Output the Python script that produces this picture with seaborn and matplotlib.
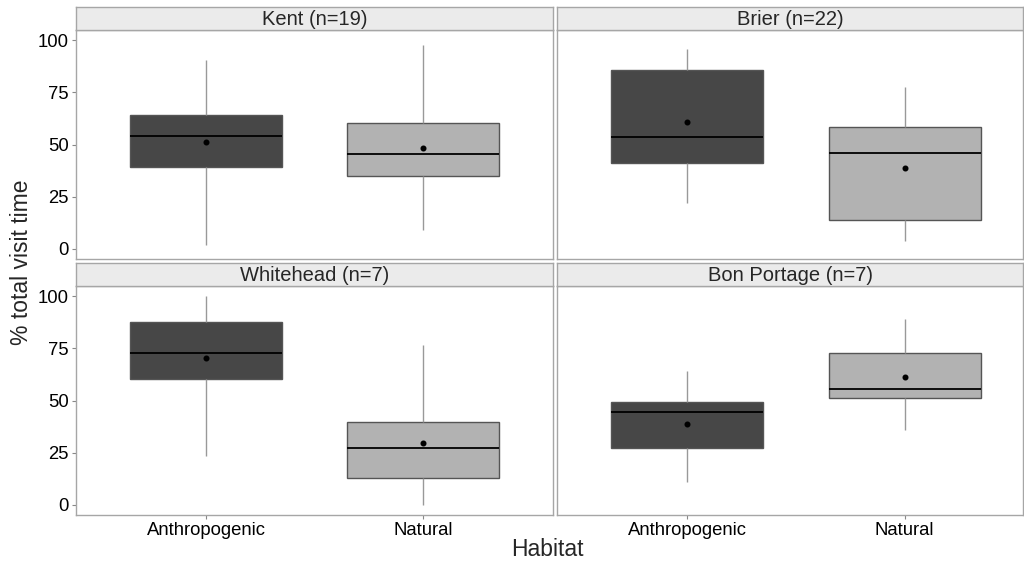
import numpy as np
import pandas as pd
import matplotlib.pyplot as plt
import seaborn as sns

# sites (facets) and habitats
sites = ["Kent (n=19)", "Brier (n=22)", "Whitehead (n=7)", "Bon Portage (n=7)"]
habitats = ["Anthropogenic", "Natural"]

# five-number summaries + means, one value per site
anthro_min = [1.9, 22.0, 23.5, 10.7]
anthro_q1 = [39.4, 41.2, 60.2, 27.0]
anthro_med = [54.2, 53.7, 72.8, 44.5]
anthro_q3 = [64.4, 85.9, 87.5, 49.1]
anthro_max = [90.4, 95.7, 100.0, 64.3]
anthro_mean = [51.1, 60.9, 70.2, 38.9]

natural_min = [9.0, 3.8, 0.0, 35.7]
natural_q1 = [35.1, 13.8, 12.6, 51.0]
natural_med = [45.3, 45.8, 27.2, 55.7]
natural_q3 = [60.1, 58.2, 39.5, 72.9]
natural_max = [97.6, 77.6, 76.5, 89.1]
natural_mean = [48.4, 38.8, 29.8, 61.3]

# long table: the five summary values per box reproduce its quartiles exactly
rows = []
for i, site in enumerate(sites):
    for hab, stats in [("Anthropogenic", (anthro_min, anthro_q1, anthro_med, anthro_q3, anthro_max)),
                       ("Natural", (natural_min, natural_q1, natural_med, natural_q3, natural_max))]:
        for s in stats:
            rows.append({"site": site, "habitat": hab, "value": s[i]})
df = pd.DataFrame(rows)
means = pd.DataFrame({
    "site": sites * 2,
    "habitat": ["Anthropogenic"] * 4 + ["Natural"] * 4,
    "value": anthro_mean + natural_mean,
})

sns.set_theme(style="white")
plt.rcParams["font.family"] = ["Liberation Sans", "DejaVu Sans"]

fig = plt.figure(figsize=(10.24, 5.62), dpi=100)
W, H = 1024, 562
# panel boxes in pixels: (left, right, x-limits); rows: (plot top, plot bottom)
cols = [(76, 553, (-0.6, 1.6)), (557, 1023, (-0.6, 1.545))]
rows_px = [(30, 259), (286, 515)]
strip_h = 23
border = "#a6a6a6"

for k, site in enumerate(sites):
    r, c = divmod(k, 2)
    x0, x1, xlim = cols[c]
    top, bot = rows_px[r]
    ax = fig.add_axes([x0 / W, 1 - bot / H, (x1 - x0) / W, (bot - top) / H])
    sub = df[df["site"] == site]
    sns.boxplot(data=sub, x="habitat", y="value", hue="habitat", order=habitats,
                hue_order=habitats, palette=["#474747", "#b2b2b2"], width=0.7,
                whis=(0, 100), showfliers=False, linewidth=1.0, linecolor="#555555",
                legend=False, ax=ax,
                medianprops=dict(color="black", linewidth=1.3),
                whiskerprops=dict(color="#999999", linewidth=1.0),
                capprops=dict(linewidth=0))
    sns.pointplot(data=means[means["site"] == site], x="habitat", y="value",
                  order=habitats, color="black", linestyle="none", markers="o",
                  markersize=2.3, errorbar=None, ax=ax, zorder=10)
    ax.set_xlim(*xlim)
    ax.set_ylim(-5, 105)
    ax.set_yticks([0, 25, 50, 75, 100])
    ax.set_xlabel("")
    ax.set_ylabel("")
    for sp in ax.spines.values():
        sp.set_visible(True)
        sp.set_color(border)
        sp.set_linewidth(1.0)
    ax.tick_params(axis="both", length=3, width=0.8, color="#888888",
                   labelsize=13.3, labelcolor="black", pad=2)
    ax.tick_params(axis="x", bottom=(r == 1), labelbottom=(r == 1))
    ax.tick_params(axis="y", left=(c == 0), labelleft=(c == 0))

    # facet strip
    sax = fig.add_axes([x0 / W, 1 - top / H, (x1 - x0) / W, strip_h / H])
    sax.set_facecolor("#ebebeb")
    sax.set_xticks([])
    sax.set_yticks([])
    for sp in sax.spines.values():
        sp.set_color(border)
        sp.set_linewidth(1.0)
    sax.text(0.5, 0.45, site, ha="center", va="center", fontsize=14.5,
             transform=sax.transAxes)

fig.text(22 / W, 1 - 262 / H, "% total visit time", rotation=90, ha="center",
         va="center", fontsize=16.5)
fig.text(547 / W, 1 - 549 / H, "Habitat", ha="center", va="center", fontsize=16.5)

fig.savefig("out.png", dpi=100)
